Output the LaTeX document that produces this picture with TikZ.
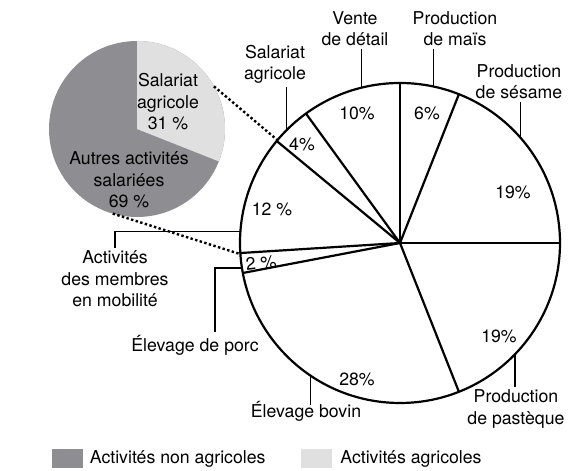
\documentclass[tikz,border=0pt]{standalone}
\usepackage{fontspec}
\setmainfont{TeX Gyre Heros}
\usetikzlibrary{positioning}

\definecolor{darkpie}{RGB}{142,142,146}
\definecolor{lightpie}{RGB}{224,224,224}

\tikzset{
    lbl/.style={align=center, inner sep=0pt, outer sep=3pt},
    pct/.style={inner sep=0pt},
    lead/.style={line width=1.2pt},
    dots/.style={dash pattern=on 2.4pt off 2.4pt, line width=2.4pt},
    key/.style={minimum width=31pt, minimum height=19pt, inner sep=0pt},
}

\begin{document}
\begin{tikzpicture}[x=1pt, y=1pt, font=\fontsize{17.7}{21.5}\selectfont]
        \useasboundingbox (0,0) rectangle (568,471);

        % small pie
        \node [circle, fill=darkpie, minimum size=176pt, inner sep=0pt, outer sep=0pt] (small) at (137,342) {};
        \fill [lightpie] (small.center) -- ++(-21.6:88) arc [start angle=-21.6, end angle=90, radius=88] -- cycle;
        \node [lbl] (sal-small) at (168,369) {Salariat\\agricole\\31 \%};
        \node [lbl] (autres) at (129,291) {Autres activités\\salariées\\69 \%};

        % big pie
        \node [circle, draw, line width=2.2pt, minimum size=320pt, inner sep=0pt, outer sep=0pt] (pie) at (400,228) {};
        \foreach \a in {0,68.4,90,126,140.4,183.6,190.8,291.6}
            \draw [line width=2.2pt] (pie.center) -- +(\a:160);

        \draw [dots] (small.29) -- (pie.140);
        \draw [dots] (small.254) -- (pie.184);

        \node [pct] (p10) at (357,358) {10\%};
        \node [pct] (p6) at (427,358) {6\%};
        \node [pct] (p4) at (302,327) {4\%};
        \node [pct] (p19a) at (513,279) {19\%};
        \node [pct] (p12) at (272,262) {12 \%};
        \node [pct, rotate=7] (p2) at (261,208) {2 \%};
        \node [pct] (p28) at (357,92) {28\%};
        \node [pct] (p19b) at (499,135) {19\%};

        % labels
        \node [lbl] (sal) at (275,406.5) {Salariat\\agricole};
        \draw [lead] (pie.135) -- (pie.135 |- sal.south);

        \node [lbl] (vente) at (355,442.5) {Vente\\de détail};
        \draw [lead] (pie.104) -- (pie.104 |- vente.south);

        \node [lbl] (mais) at (455,442.5) {Production\\de maïs};
        \draw [lead] (pie.78) -- (pie.78 |- mais.south);

        \node [lbl] (sesame) at (519,389.5) {Production\\de sésame};
        \draw [lead] (pie.41) -- (pie.41 |- sesame.south);

        \node [lbl] (mobil) at (115,192) {Activités\\des membres\\en mobilité};
        \draw [lead] (pie.176) -- (pie.176 -| mobil.north) -- (mobil.north);

        \node [lbl] (porc) at (195,126) {Élevage de porc};
        \coordinate (porc-k) at (215,0);
        \draw [lead] (pie.189) -- (pie.189 -| porc-k) -- (porc-k |- porc.north);

        \node [lbl, outer sep=-4pt] (bovin) at (306,60) {Élevage bovin};
        \draw [lead] (pie.236) -- (pie.236 |- bovin.north);

        \node [lbl] (pasteque) at (516,62) {Production\\de pastèque};
        \draw [lead] (pie.316) -- (pie.316 |- pasteque.north);

        % legend
        \node [key, fill=darkpie] (key-non) at (67,12.5) {};
        \node [pct, right=7pt of key-non] (key-non-t) {Activités non agricoles};
        \node [key, fill=lightpie] (key-agri) at (316.5,12.5) {};
        \node [pct, right=8pt of key-agri] (key-agri-t) {Activités agricoles};
\end{tikzpicture}
\end{document}
